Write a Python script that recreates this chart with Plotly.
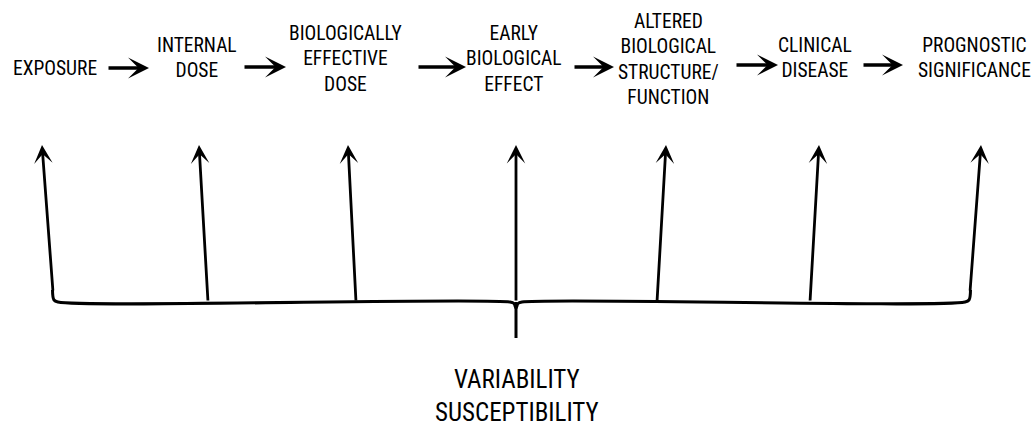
import plotly.graph_objects as go

# ---- content ----
stage_labels = [
    "EXPOSURE",
    "INTERNAL<br>DOSE",
    "BIOLOGICALLY<br>EFFECTIVE<br>DOSE",
    "EARLY<br>BIOLOGICAL<br>EFFECT",
    "ALTERED<br>BIOLOGICAL<br>STRUCTURE/<br>FUNCTION",
    "CLINICAL<br>DISEASE",
    "PROGNOSTIC<br>SIGNIFICANCE",
]
bottom_label = "VARIABILITY<br>SUSCEPTIBILITY"

# ---- layout positions (pixel space) ----
label_x = [55, 197, 345, 514, 668, 815, 974]
label_y = [68, 58, 59, 59, 59, 58, 58]
flow_x0 = [107, 243, 417, 573, 735, 862]
flow_x1 = [149, 286, 466, 614, 778, 903]
flow_y = [68, 67, 67, 67, 65, 65]
up_tip_x = [42, 199, 348, 516, 666, 819, 981]
up_base_x = [53, 208, 356, 516, 657, 810, 970]
tip_y = 145
base_y = 302
stem_bottom = 338
center_x = 516

FONT = "Roboto Condensed, Liberation Sans Narrow, Arial Narrow, sans-serif"
W, H = 1033, 427
fig = go.Figure()

# bracket line (with rounded ends and centre notch)
bx = [up_base_x[0] - 0.5, up_base_x[0] + 1, up_base_x[0] + 5,
      center_x - 6, center_x - 2, center_x, center_x + 2, center_x + 6,
      up_base_x[-1] - 5, up_base_x[-1] - 1, up_base_x[-1] + 0.5]
by = [base_y - 12, base_y - 2, base_y,
      base_y, base_y + 1.5, base_y + 6, base_y + 1.5, base_y,
      base_y, base_y - 2, base_y - 12]
fig.add_trace(go.Scatter(x=bx, y=by, mode="lines", line=dict(color="black", width=3, shape="spline"),
                         hoverinfo="skip", showlegend=False))
# centre stem downward
fig.add_trace(go.Scatter(x=[center_x, center_x], y=[base_y, stem_bottom], mode="lines",
                         line=dict(color="black", width=3), hoverinfo="skip", showlegend=False))

annotations = []
# stage labels
for lbl, x, y in zip(stage_labels, label_x, label_y):
    annotations.append(dict(x=x, y=y, xref="x", yref="y", text=lbl, showarrow=False,
                            font=dict(family=FONT, size=19.5, color="black"),
                            align="center", xanchor="center", yanchor="middle"))
# flow arrows
for x0, x1, y in zip(flow_x0, flow_x1, flow_y):
    annotations.append(dict(x=x1, y=y, ax=x0, ay=y, xref="x", yref="y", axref="x", ayref="y",
                            text="", showarrow=True, arrowhead=3, arrowsize=1, arrowwidth=3.5,
                            arrowcolor="black", standoff=0, startstandoff=0))
# upward arrows
for xt, xb in zip(up_tip_x, up_base_x):
    yb = base_y - 10 if xb in (up_base_x[0], up_base_x[-1]) else base_y
    annotations.append(dict(x=xt, y=tip_y, ax=xb, ay=yb, xref="x", yref="y", axref="x", ayref="y",
                            text="", showarrow=True, arrowhead=3, arrowsize=1.1, arrowwidth=2.8,
                            arrowcolor="black", standoff=0, startstandoff=0))
# bottom label
annotations.append(dict(x=center_x + 1, y=396, xref="x", yref="y", text=bottom_label, showarrow=False,
                        font=dict(family=FONT, size=25, color="black"),
                        align="center", xanchor="center", yanchor="middle"))

fig.update_layout(
    width=W, height=H, margin=dict(l=0, r=0, t=0, b=0),
    paper_bgcolor="white", plot_bgcolor="white",
    xaxis=dict(range=[0, W], visible=False, fixedrange=True),
    yaxis=dict(range=[H, 0], visible=False, fixedrange=True),
    annotations=annotations, showlegend=False,
)
fig.write_html("out.html", config={"displayModeBar": False},
               post_script="document.body.style.margin='0';")
